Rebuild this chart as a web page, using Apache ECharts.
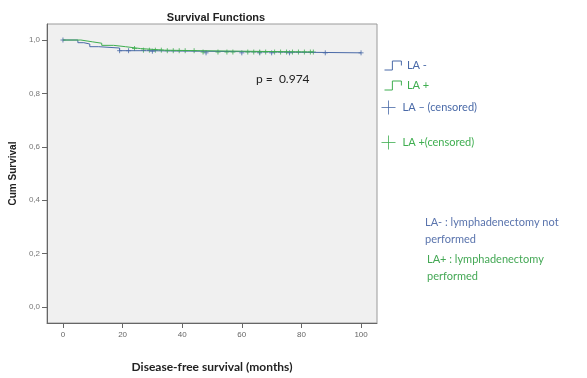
<!DOCTYPE html>
<html>
<head>
<meta charset="utf-8">
<script src="https://cdn.jsdelivr.net/npm/echarts@6/dist/echarts.min.js"></script>
<style>
  html, body { margin: 0; padding: 0; background: #fff; }
  #main { width: 587px; height: 378px; }
</style>
</head>
<body>
<div id="main"></div>
<script>
// Kaplan-Meier steps (months, cum survival)
var laMinusSteps = [[0, 1], [5, 0.99], [7, 0.985], [9, 0.975], [12, 0.97], [19, 0.96], [28, 0.958], [46, 0.952], [100, 0.952]];
var laPlusSteps = [[0, 1], [6, 0.993], [10, 0.988], [13, 0.98], [17, 0.975], [21, 0.968], [26, 0.962], [34, 0.96], [46, 0.955], [84, 0.955]];

// censored observations
var laMinusCensored = [[0, 1], [19, 0.96], [22, 0.96], [30, 0.958], [48, 0.952], [60, 0.952], [66, 0.952], [70, 0.952], [76, 0.952], [88, 0.952], [100, 0.952]];
var laPlusCensored = [[24, 0.968], [27, 0.962], [29, 0.962], [31, 0.962], [33, 0.962], [35, 0.96], [37, 0.96], [39, 0.96], [41, 0.96], [44, 0.96],
    [47, 0.955], [52, 0.955], [55, 0.955], [57, 0.955], [62, 0.955], [64, 0.955], [66, 0.955], [68, 0.955], [71, 0.955], [73, 0.955],
    [75, 0.955], [77, 0.955], [79, 0.955], [81, 0.955], [83, 0.955], [84, 0.955]];

var xTicks = [0, 20, 40, 60, 80, 100];
var yTicks = [0, 0.2, 0.4, 0.6, 0.8, 1.0];

var blue = '#4a6aa8';
var green = '#3fae50';
var plusPath = 'path://M5,0L5,10M0,5L10,5';
var stepPath = 'path://M0,9L7,9L7,1L15,1L15,5';

var myChart = echarts.init(document.getElementById('main'));

var option = {
    animation: false,
    title: {
        text: 'Survival Functions',
        left: 211,
        textAlign: 'center',
        top: 7,
        textStyle: { fontFamily: 'Liberation Sans', fontWeight: 'bold', fontSize: 11, color: '#222' }
    },
    grid: {
        left: 46, top: 24, right: 210, bottom: 49,
        show: true,
        backgroundColor: '#f0f0f0',
        borderColor: '#9a9a9a',
        borderWidth: 1
    },
    legend: [{
        orient: 'vertical',
        left: 379,
        top: 55,
        itemWidth: 18,
        itemHeight: 9,
        itemGap: 9,
        textStyle: { fontFamily: 'Lato', fontSize: 11 },
        data: [
            { name: 'LA -', icon: stepPath, itemStyle: { color: 'rgba(0,0,0,0)', borderColor: blue, borderWidth: 1 }, textStyle: { color: blue } },
            { name: 'LA +', icon: stepPath, itemStyle: { color: 'rgba(0,0,0,0)', borderColor: green, borderWidth: 1 }, textStyle: { color: green } }
        ]
    }, {
        orient: 'vertical',
        left: 376,
        top: 95,
        itemWidth: 18,
        itemHeight: 14,
        itemGap: 20,
        textStyle: { fontFamily: 'Lato', fontSize: 11 },
        data: [
            { name: 'LA – (censored)', icon: plusPath, itemStyle: { color: 'rgba(0,0,0,0)', borderColor: blue, borderWidth: 1 }, textStyle: { color: blue } },
            { name: 'LA +(censored)', icon: plusPath, itemStyle: { color: 'rgba(0,0,0,0)', borderColor: green, borderWidth: 1 }, textStyle: { color: green } }
        ]
    }],
    xAxis: {
        type: 'value',
        min: -5.35,
        max: 105.35,
        name: 'Disease-free survival (months)',
        nameLocation: 'middle',
        nameGap: 38,
        nameTextStyle: { fontFamily: 'Lato', fontWeight: 'bold', fontSize: 12, color: '#222' },
        splitLine: { show: false },
        axisLine: { onZero: false, lineStyle: { color: '#666' } },
        axisTick: { customValues: xTicks, length: 5, lineStyle: { color: '#666' } },
        axisLabel: { customValues: xTicks, fontSize: 8, color: '#666', fontFamily: 'Liberation Sans', margin: 8 }
    },
    yAxis: {
        type: 'value',
        min: -0.06,
        max: 1.06,
        name: 'Cum Survival',
        nameLocation: 'middle',
        nameGap: 26,
        nameTextStyle: { fontFamily: 'Liberation Sans', fontWeight: 'bold', fontSize: 10, color: '#222' },
        splitLine: { show: false },
        axisLine: { show: true, onZero: false, lineStyle: { color: '#666' } },
        axisTick: { show: true, customValues: yTicks, length: 5, lineStyle: { color: '#666' } },
        axisLabel: {
            customValues: yTicks, fontSize: 8, color: '#777', fontFamily: 'Liberation Sans', margin: 7,
            formatter: function (v) { return v.toFixed(1).replace('.', ','); }
        }
    },
    graphic: [
        { type: 'text', left: 256, top: 73, style: { text: 'p =  0.974', fontFamily: 'Lato', fontSize: 12, fill: '#222' } },
        { type: 'text', left: 425, top: 214, style: { text: 'LA- : lymphadenectomy not\nperformed', fontFamily: 'Lato', fontSize: 11, lineHeight: 17, fill: '#5a74ad' } },
        { type: 'text', left: 427, top: 251, style: { text: 'LA+ : lymphadenectomy\nperformed', fontFamily: 'Lato', fontSize: 11, lineHeight: 17, fill: '#44a855' } }
    ],
    series: [{
        name: 'LA -',
        type: 'line',
        step: 'end',
        showSymbol: false,
        lineStyle: { color: blue, width: 1 },
        itemStyle: { color: blue },
        data: laMinusSteps
    }, {
        name: 'LA +',
        type: 'line',
        step: 'end',
        showSymbol: false,
        lineStyle: { color: green, width: 1 },
        itemStyle: { color: green },
        data: laPlusSteps
    }, {
        name: 'LA – (censored)',
        type: 'scatter',
        symbol: plusPath,
        symbolSize: 5,
        itemStyle: { color: 'rgba(0,0,0,0)', borderColor: blue, borderWidth: 1 },
        data: laMinusCensored
    }, {
        name: 'LA +(censored)',
        type: 'scatter',
        symbol: plusPath,
        symbolSize: 5,
        itemStyle: { color: 'rgba(0,0,0,0)', borderColor: green, borderWidth: 1 },
        data: laPlusCensored
    }]
};

myChart.setOption(option);
</script>
</body>
</html>
